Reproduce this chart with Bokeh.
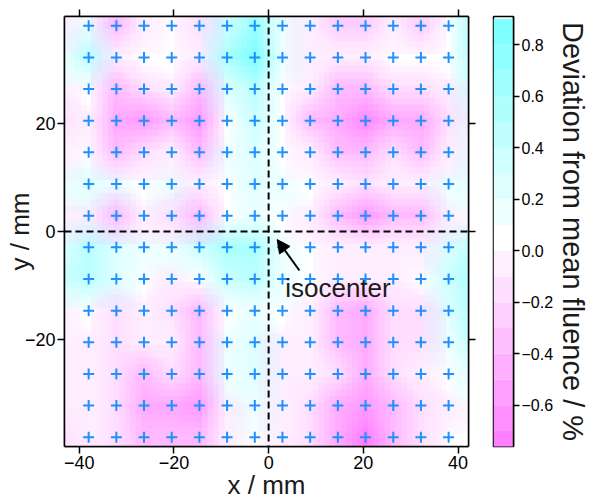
import numpy as np
from bokeh.plotting import figure
from bokeh.layouts import row
from bokeh.models import (Range1d, LinearColorMapper, LinearAxis, FixedTicker,
                          CustomJSTickFormatter, Span, Arrow, NormalHead, Label)
from bokeh.embed import file_html
from bokeh.resources import INLINE

# Detector positions (mm), same grid in x and y
det_pos = [-38.0, -32.15, -26.31, -20.46, -14.62, -8.77, -2.92,
           2.92, 8.77, 14.62, 20.46, 26.31, 32.15, 38.0]
pitch = 5.846

# Deviation from mean fluence (%), rows from top (+y) to bottom (-y);
# outer ring of one pitch around the detector grid
fluence_dev = [
    [-0.10, 0.05, -0.30, -0.10, 0.10, -0.10, 0.35, 0.70, 0.30, -0.05, -0.25, -0.20, -0.15, -0.20, 0.10, 0.60],
    [-0.05, 0.15, -0.35, -0.05, 0.10, -0.15, 0.35, 0.65, 0.20, -0.05, -0.25, -0.25, -0.10, -0.25, 0.10, 0.60],
    [0.20, 0.45, -0.05, 0.05, 0.05, -0.10, 0.60, 0.91, 0.20, 0.00, -0.10, -0.10, 0.05, 0.05, 0.10, 0.55],
    [0.00, 0.10, -0.30, -0.20, -0.05, -0.30, 0.25, 0.40, 0.10, -0.10, -0.30, -0.35, -0.15, -0.15, 0.00, 0.35],
    [-0.15, -0.10, -0.50, -0.60, -0.35, -0.60, 0.10, 0.35, 0.05, -0.30, -0.50, -0.65, -0.40, -0.45, -0.15, 0.20],
    [0.00, 0.05, -0.30, -0.15, -0.10, -0.35, 0.15, 0.30, 0.05, -0.10, -0.30, -0.35, -0.20, -0.30, 0.00, 0.20],
    [0.15, 0.25, 0.20, 0.05, 0.15, 0.00, 0.05, 0.30, 0.20, 0.05, -0.10, -0.15, -0.10, 0.00, 0.15, 0.25],
    [-0.10, -0.10, -0.30, -0.10, -0.15, -0.35, 0.05, 0.15, 0.05, -0.10, -0.35, -0.55, -0.35, -0.35, -0.10, 0.10],
    [0.30, 0.45, 0.30, 0.20, 0.15, 0.35, 0.55, 0.50, 0.20, 0.05, 0.00, -0.10, -0.10, 0.00, 0.30, 0.45],
    [0.35, 0.45, 0.25, 0.05, -0.05, 0.10, 0.35, 0.40, 0.15, 0.05, 0.00, -0.05, -0.10, 0.05, 0.35, 0.50],
    [0.00, 0.05, -0.15, -0.10, -0.15, -0.35, 0.10, 0.20, 0.05, -0.05, -0.30, -0.40, -0.20, -0.15, 0.30, 0.55],
    [-0.05, 0.00, -0.15, -0.05, -0.10, -0.35, 0.15, 0.30, 0.00, -0.10, -0.30, -0.40, -0.20, -0.15, 0.20, 0.45],
    [-0.05, 0.00, -0.15, -0.30, -0.15, -0.30, 0.15, 0.25, 0.00, 0.00, -0.20, -0.40, -0.15, -0.10, 0.05, 0.30],
    [-0.10, -0.05, -0.20, -0.40, -0.45, -0.55, 0.00, 0.15, -0.05, -0.15, -0.40, -0.55, -0.30, -0.15, 0.00, 0.10],
    [-0.15, -0.10, -0.15, -0.30, -0.35, -0.35, 0.00, 0.05, -0.10, -0.20, -0.45, -0.72, -0.30, -0.15, 0.05, 0.05],
    [-0.15, -0.15, -0.15, -0.25, -0.30, -0.30, 0.00, 0.05, -0.10, -0.20, -0.45, -0.76, -0.30, -0.15, 0.05, 0.05],
]

# Colour classes of 0.1 % width
breaks = [-0.8, -0.7, -0.6, -0.5, -0.4, -0.3, -0.2, -0.1, 0.0,
          0.1, 0.2, 0.3, 0.4, 0.5, 0.6, 0.7, 0.8, 0.9]
cbar_ticks = [-0.6, -0.4, -0.2, 0.0, 0.2, 0.4, 0.6, 0.8]
axis_ticks = [-40, -20, 0, 20, 40]

FONT = "Liberation Sans"


def cyan_magenta(n):
    """Magenta -> white -> cyan ramp (HSV, v = 1)."""
    k = n // 2
    sat = np.linspace(0.5, 0.0, k + 1)
    cols = []
    for s in sat[:-1]:
        g = int(round(255 * (1 - s)))
        cols.append("#%02x%02x%02x" % (255, g, 255))
    cols.append("#ffffff")
    for s in sat[::-1][1:]:
        r = int(round(255 * (1 - s)))
        cols.append("#%02x%02x%02x" % (r, 255, 255))
    return cols


palette = cyan_magenta(len(breaks) - 1)
z = np.array(fluence_dev)[::-1]
zmin, zmax = float(z.min()), float(z.max())
mapper = LinearColorMapper(palette=palette, low=breaks[0], high=breaks[-1])

num_fmt = CustomJSTickFormatter(code="return (tick < 0 ? '\\u2212' : '') + Math.abs(tick).toFixed(0);")
dec_fmt = CustomJSTickFormatter(code="return (tick < -1e-9 ? '\\u2212' : '') + Math.abs(tick).toFixed(1);")
blank_fmt = CustomJSTickFormatter(code="return '';")

p = figure(frame_width=404, frame_height=430,
           x_range=Range1d(-43.1, 42.2), y_range=Range1d(-39.7, 39.7),
           min_border_left=64, min_border_right=12, min_border_top=16, min_border_bottom=50,
           output_backend="svg", toolbar_location=None)
p.xgrid.visible = False
p.ygrid.visible = False
p.outline_line_color = "black"
p.outline_line_width = 1.5
p.background_fill_color = "white"
p.border_fill_color = "white"

# Fluence map: the same image is laid down at sub-pitch offsets, each layer
# blended at 1/k opacity, so the stack shows the running mean (soft shading
# between detectors instead of hard pitch-sized blocks).
ext = det_pos[0] - 1.5 * pitch
size = (len(det_pos) + 2) * pitch
shifts = [-0.4, -0.2, 0.0, 0.2, 0.4]
k = 0
for sy in shifts:
    for sx in shifts:
        k += 1
        p.image(image=[z], x=ext + sx * pitch, y=ext + sy * pitch, dw=size, dh=size,
                color_mapper=mapper, global_alpha=1.0 / k)

gx, gy = np.meshgrid(det_pos, det_pos)
p.scatter(gx.ravel(), gy.ravel(), marker="cross", size=11, line_width=2, line_color="#1e90ff")

for dim in ("height", "width"):
    p.add_layout(Span(location=0, dimension=dim, line_color="black",
                      line_dash="7 4", line_width=2))

p.add_layout(Arrow(end=NormalHead(size=13, fill_color="black", line_color="black"),
                   x_start=6.5, y_start=-7.2, x_end=1.8, y_end=-1.5,
                   line_color="black", line_width=2))
p.add_layout(Label(x=3.5, y=-10.5, text="isocenter", text_font=FONT,
                   text_font_size="26px", text_baseline="alphabetic", text_color="#1a1a1a"))

for ax in (p.xaxis[0], p.yaxis[0]):
    ax.ticker = FixedTicker(ticks=axis_ticks)
    ax.formatter = num_fmt
    ax.major_tick_in = 0
    ax.major_tick_out = 7
    ax.minor_tick_out = 0
    ax.minor_tick_in = 0
    ax.major_tick_line_width = 1.5
    ax.axis_line_width = 1.5
    ax.major_label_standoff = 2
    ax.major_label_text_font = FONT
    ax.major_label_text_font_size = "18px"
    ax.major_label_text_color = "black"
    ax.axis_label_text_font = FONT
    ax.axis_label_text_font_size = "26px"
    ax.axis_label_text_font_style = "normal"
    ax.axis_label_text_color = "#1a1a1a"
p.xaxis[0].axis_label = "x / mm"
p.yaxis[0].axis_label = "y / mm"
p.xaxis[0].axis_label_standoff = -2
p.yaxis[0].axis_label_standoff = -13

for side in ("above", "right"):
    mirror = LinearAxis(ticker=FixedTicker(ticks=axis_ticks), formatter=blank_fmt,
                        major_tick_in=0, major_tick_out=7, minor_tick_in=0, minor_tick_out=0,
                        major_tick_line_width=1.5, axis_line_width=1.5,
                        major_label_text_font_size="1px")
    p.add_layout(mirror, side)

# Colour bar
cb = figure(frame_width=20, frame_height=430,
            x_range=Range1d(0, 1), y_range=Range1d(zmin, zmax),
            x_axis_location=None, y_axis_location="right",
            min_border_left=13, min_border_right=0, min_border_top=16, min_border_bottom=50,
            output_backend="svg", toolbar_location=None)
cb.xgrid.visible = False
cb.ygrid.visible = False
cb.outline_line_color = "black"
cb.outline_line_width = 1.5
cb.quad(left=0, right=1, bottom=breaks[:-1], top=breaks[1:], fill_color=palette, line_color=None)
cax = cb.yaxis[0]
cax.ticker = FixedTicker(ticks=cbar_ticks)
cax.formatter = dec_fmt
cax.major_tick_in = 0
cax.major_tick_out = 6
cax.minor_tick_in = 0
cax.minor_tick_out = 0
cax.major_tick_line_width = 1.5
cax.axis_line_width = 1.5
cax.major_label_standoff = 2
cax.major_label_text_font = FONT
cax.major_label_text_font_size = "16px"
cax.major_label_text_color = "black"
cax.axis_label = "Deviation from mean fluence / %"
cax.axis_label_text_font = FONT
cax.axis_label_text_font_size = "29px"
cax.axis_label_text_font_style = "normal"
cax.axis_label_text_color = "#1a1a1a"
cax.axis_label_standoff = 1

layout = row(p, cb)
open("out.html", "w").write(file_html(layout, INLINE))
